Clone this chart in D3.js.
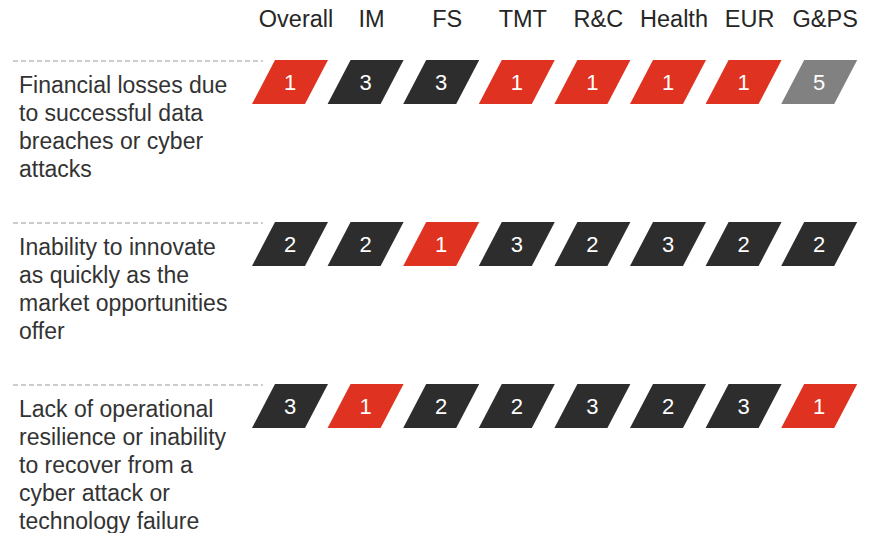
<!DOCTYPE html>
<html>
<head>
<meta charset="utf-8">
<script src="https://cdn.jsdelivr.net/npm/d3@7"></script>
<style>
  html, body { margin: 0; padding: 0; background: #fff; }
  svg { display: block; font-family: 'Liberation Sans', Arial, Helvetica, sans-serif; }
</style>
</head>
<body>
<div id="chart"></div>
<script>
// Sectors across the top
const sectors = ['Overall', 'IM', 'FS', 'TMT', 'R&C', 'Health', 'EUR', 'G&PS']

// Risks down the side (pre-wrapped lines)
const risks = [
  ['Financial losses due', 'to successful data', 'breaches or cyber', 'attacks'],
  ['Inability to innovate', 'as quickly as the', 'market opportunities', 'offer'],
  ['Lack of operational', 'resilience or inability', 'to recover from a', 'cyber attack or', 'technology failure']
]

// Rank of each risk per sector
const rankFinancial = [1, 3, 3, 1, 1, 1, 1, 5]
const rankInnovate = [2, 2, 1, 3, 2, 3, 2, 2]
const rankResilience = [3, 1, 2, 2, 3, 2, 3, 1]
const ranks = [rankFinancial, rankInnovate, rankResilience]

const W = 874, H = 533

const svg = d3.select('#chart').append('svg')
  .attr('width', W)
  .attr('height', H)

// x = bottom-left corner of each parallelogram
const x = d3.scaleBand().domain(sectors).range([252, 252 + 75.6 * sectors.length])
// y = top of each row
const y = d3.scaleBand().domain(d3.range(risks.length)).range([60, 60 + 162 * risks.length])

const color = d3.scaleThreshold()
  .domain([2, 4])
  .range(['#e03220', '#2d2d2d', '#818181'])

const skew = 23, shapeW = 53, shapeH = 44

// Column headers
svg.append('g').selectAll('text')
  .data(sectors)
  .join('text')
  .attr('x', d => x(d) + skew / 2 + shapeW / 2 + 6)
  .attr('y', 27)
  .attr('text-anchor', 'middle')
  .attr('font-size', '23.5px')
  .attr('fill', '#262626')
  .text(d => d)

const rows = svg.append('g').selectAll('g')
  .data(risks)
  .join('g')
  .attr('transform', (d, i) => `translate(0,${y(i)})`)

// dashed separator
rows.append('line')
  .attr('x1', 13).attr('x2', 263)
  .attr('y1', 1).attr('y2', 1)
  .attr('stroke', '#9a9a9a')
  .attr('stroke-width', 1)
  .attr('stroke-dasharray', '5,3')

// risk label
rows.append('text')
  .attr('x', 19)
  .attr('y', 33)
  .attr('font-size', '23px')
  .attr('fill', '#333')
  .selectAll('tspan')
  .data(d => d)
  .join('tspan')
  .attr('x', 19)
  .attr('dy', (d, i) => i === 0 ? 0 : 28)
  .text(d => d)

// rank parallelograms
const cells = rows.selectAll('g.cell')
  .data((d, i) => ranks[i].map((r, j) => ({ sector: sectors[j], rank: r })))
  .join('g')
  .attr('class', 'cell')
  .attr('transform', d => `translate(${x(d.sector)},0)`)

cells.append('path')
  .attr('d', `M0,${shapeH}L${skew},0L${skew + shapeW},0L${shapeW},${shapeH}Z`)
  .attr('fill', d => color(d.rank))

cells.append('text')
  .attr('x', skew / 2 + shapeW / 2)
  .attr('y', shapeH / 2 + 8)
  .attr('text-anchor', 'middle')
  .attr('font-size', '22px')
  .attr('fill', '#fff')
  .text(d => d.rank)
</script>
</body>
</html>
